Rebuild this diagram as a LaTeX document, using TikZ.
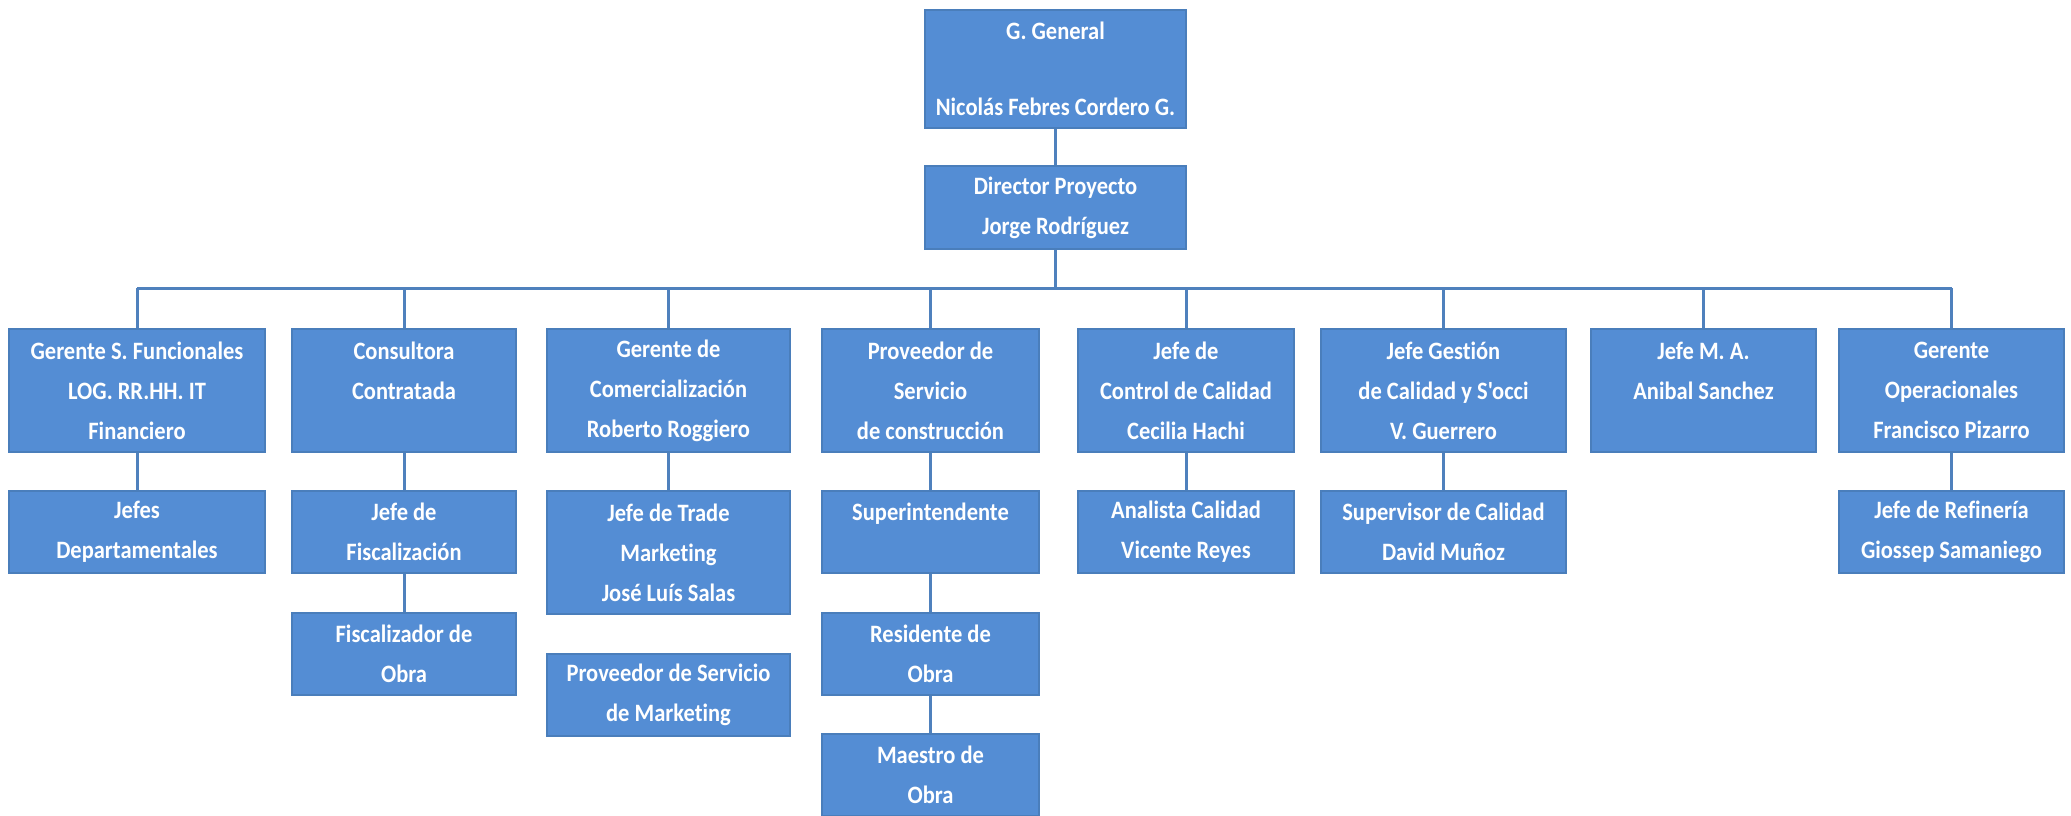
\documentclass[tikz,border=0pt]{standalone}
\usepackage{fontspec}
\setmainfont{Carlito}[FakeStretch=0.9, Ligatures={TeXOff,CommonOff}]
\definecolor{boxfill}{HTML}{548DD4}
\definecolor{boxline}{HTML}{4A7EBB}
\definecolor{connc}{HTML}{4F81BD}
\begin{document}
\begin{tikzpicture}[x=1pt,y=-1pt,
  orgbox/.style={rectangle, fill=boxfill, draw=boxline, line width=2pt, text=white,
    font=\fontsize{25}{40}\selectfont\bfseries, align=center, inner sep=0pt},
  tall/.style={minimum height=123pt},
  short/.style={minimum height=82pt},
  conn/.style={draw=connc, line width=3pt}]
\useasboundingbox (0,0) rectangle (2071,815);

% top
\node[orgbox, minimum width=261pt, minimum height=118pt] (g) at (1055.5,69) {G. General\\[36pt]Nicolás Febres Cordero G.};
\node[orgbox, minimum width=261pt, minimum height=83pt] (d) at (1055.5,207.5) {Director Proyecto\\Jorge Rodríguez};

% row 1
\node[orgbox, tall, minimum width=256pt] (b1) at (137,390.5) {Gerente S. Funcionales\\LOG. RR.HH. IT\\Financiero};
\node[orgbox, tall, minimum width=224pt] (b2) at (404,390.5) {Consultora\\Contratada\\\phantom{X}};
\node[orgbox, tall, minimum width=243pt] (b3) at (668.5,390.5) {Gerente de\\Comercialización\\Roberto Roggiero};
\node[orgbox, tall, minimum width=217pt] (b4) at (930.5,390.5) {Proveedor de\\Servicio\\de construcción};
\node[orgbox, tall, minimum width=216pt] (b5) at (1186,390.5) {Jefe de\\Control de Calidad\\Cecilia Hachi};
\node[orgbox, tall, minimum width=245pt] (b6) at (1443.5,390.5) {Jefe Gestión\\de Calidad y S'occi\\V. Guerrero};
\node[orgbox, tall, minimum width=225pt] (b7) at (1703.5,390.5) {Jefe M. A.\\Anibal Sanchez\\\phantom{X}};
\node[orgbox, tall, minimum width=225pt] (b8) at (1951.5,390.5) {Gerente\\Operacionales\\Francisco Pizarro};

% row 2
\node[orgbox, short, minimum width=256pt] (c1) at (137,532) {Jefes\\Departamentales};
\node[orgbox, short, minimum width=224pt] (c2) at (404,532) {Jefe de\\Fiscalización};
\node[orgbox, tall, minimum width=243pt] (c3) at (668.5,552.5) {Jefe de Trade\\Marketing\\José Luís Salas};
\node[orgbox, short, minimum width=217pt] (c4) at (930.5,532) {Superintendente\\\phantom{X}};
\node[orgbox, short, minimum width=216pt] (c5) at (1186,532) {Analista Calidad\\Vicente Reyes};
\node[orgbox, short, minimum width=245pt] (c6) at (1443.5,532) {Supervisor de Calidad\\David Muñoz};
\node[orgbox, short, minimum width=225pt] (c8) at (1951.5,532) {Jefe de Refinería\\Giossep Samaniego};

% row 3 and 4
\node[orgbox, short, minimum width=224pt] (e2) at (404,654) {Fiscalizador de\\Obra};
\node[orgbox, short, minimum width=243pt] (e3) at (668.5,695) {Proveedor de Servicio\\de Marketing};
\node[orgbox, short, minimum width=217pt] (e4) at (930.5,654) {Residente de\\Obra};
\node[orgbox, short, minimum width=217pt] (f4) at (930.5,775) {Maestro de\\Obra};

% connectors
\coordinate (bus) at (1060,288);
\draw[conn] (g.south) -- (d.north);
\draw[conn] (d.south) -- (d.south |- bus);
\draw[conn] (b1.north |- bus) -- (b8.north |- bus);
\foreach \n in {b1,b2,b3,b4,b5,b6,b7,b8}{
  \draw[conn] (\n.north) -- (\n.north |- bus);
}
\draw[conn] (b1.south) -- (c1.north);
\draw[conn] (b2.south) -- (c2.north);
\draw[conn] (b3.south) -- (c3.north);
\draw[conn] (b4.south) -- (c4.north);
\draw[conn] (b5.south) -- (c5.north);
\draw[conn] (b6.south) -- (c6.north);
\draw[conn] (b8.south) -- (c8.north);
\draw[conn] (c2.south) -- (e2.north);
\draw[conn] (c4.south) -- (e4.north);
\draw[conn] (e4.south) -- (f4.north);
\end{tikzpicture}
\end{document}
